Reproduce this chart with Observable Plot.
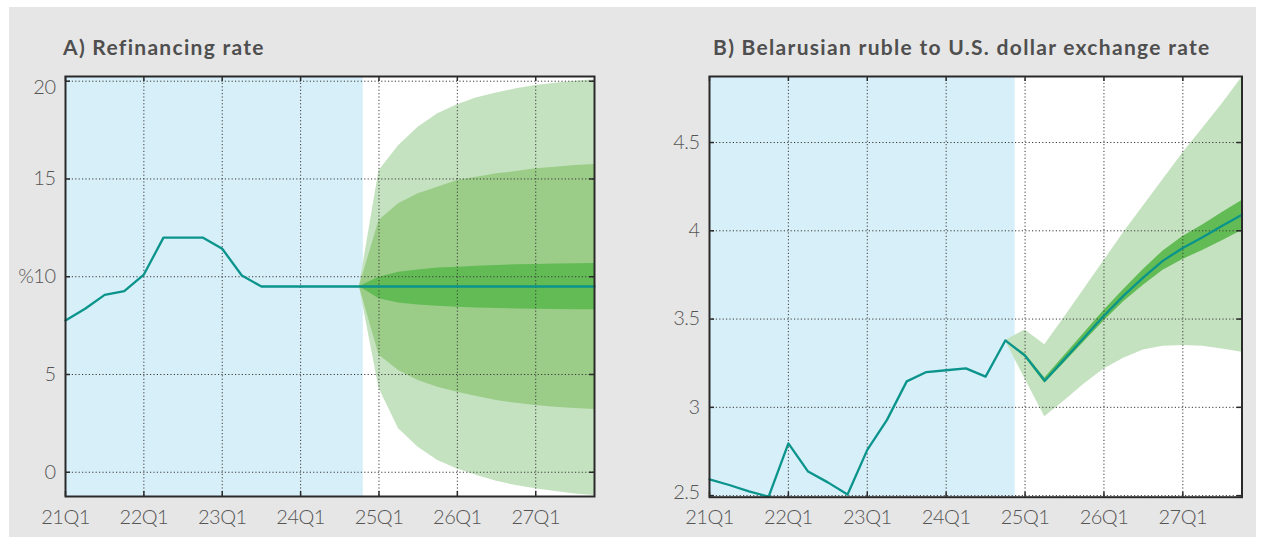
<!DOCTYPE html>
<html>
<head>
<meta charset="utf-8">
<script src="https://cdn.jsdelivr.net/npm/d3@7"></script>
<script src="https://cdn.jsdelivr.net/npm/@observablehq/plot@0.6"></script>
<style>
  html, body { margin: 0; padding: 0; background: #ffffff; width: 1262px; height: 537px; overflow: hidden; }
  #panel { position: absolute; left: 9px; top: 7px; width: 1247px; height: 530px; background: #e6e6e6; }
  .title { position: absolute; font-family: Lato, "Open Sans", sans-serif; font-weight: 700; font-size: 21px; line-height: 21px; letter-spacing: 1.3px; color: #4f4f4f; white-space: nowrap; }
  .chart { position: absolute; top: 60px; }
  .chart svg { overflow: visible; background: transparent; }
</style>
</head>
<body>
<div id="panel"></div>
<div class="title" style="left:63px; top:36px;">A) Refinancing rate</div>
<div class="title" style="left:713px; top:36px;">B) Belarusian ruble to U.S. dollar exchange rate</div>
<div class="chart" id="chartA" style="left:0px;"></div>
<div class="chart" id="chartB" style="left:631px;"></div>
<script>
// ---------- shared x axis (quarter index 0 = 21Q1 ... 27 = 27Q4) ----------
const xDomain = [0, 27];
const xTicks = [0, 4, 8, 12, 16, 20, 24];
const xTickLabels = ["21Q1", "22Q1", "23Q1", "24Q1", "25Q1", "26Q1", "27Q1"];
const histStartQ = 0;     // first historical quarter (21Q1)
const fcstStartQ = 15;    // forecast starts at 24Q4

// ---------- Panel A: Refinancing rate (%) ----------
const rateHist = [7.76, 8.36, 9.07, 9.26, 10.11, 12.0, 12.0, 12.0, 11.43, 10.06, 9.5, 9.5, 9.5, 9.5, 9.5, 9.5];
const rateFcst = [9.5, 9.5, 9.5, 9.5, 9.5, 9.5, 9.5, 9.5, 9.5, 9.5, 9.5, 9.5, 9.5];
const rateLightHi = [9.5, 15.42, 16.7, 17.65, 18.33, 18.79, 19.15, 19.4, 19.61, 19.78, 19.9, 20.0, 20.07];
const rateLightLo = [9.5, 4.3, 2.22, 1.28, 0.6, 0.17, -0.17, -0.46, -0.68, -0.85, -0.99, -1.11, -1.19];
const rateMidHi = [9.5, 12.87, 13.73, 14.24, 14.58, 14.92, 15.09, 15.26, 15.38, 15.52, 15.6, 15.69, 15.74];
const rateMidLo = [9.5, 6.0, 5.2, 4.69, 4.35, 4.09, 3.87, 3.67, 3.53, 3.41, 3.32, 3.26, 3.21];
const rateDarkHi = [9.5, 9.97, 10.23, 10.35, 10.44, 10.49, 10.54, 10.58, 10.61, 10.63, 10.65, 10.66, 10.67];
const rateDarkLo = [9.5, 8.87, 8.66, 8.56, 8.49, 8.44, 8.4, 8.37, 8.35, 8.34, 8.32, 8.31, 8.31];
const rateYDomain = [-1.24, 20.24];
const rateYTicks = [0, 5, 10, 15];
const rateYTickLabels = ["0", "5", "%10", "15"];
const rateYEdgeTicks = [20];
const rateYEdgeLabels = ["20"];
const rateGridY = [0, 5, 10, 15, 20];
const rateShadeEnd = 15.2;

// ---------- Panel B: BYN per USD ----------
const fxHist = [2.592, 2.56, 2.524, 2.494, 2.796, 2.636, 2.575, 2.506, 2.759, 2.929, 3.147, 3.2, 3.21, 3.221, 3.174, 3.379];
const fxFcst = [3.379, 3.293, 3.151, 3.273, 3.396, 3.519, 3.633, 3.736, 3.831, 3.903, 3.963, 4.029, 4.091];
const fxLightHi = [3.379, 3.438, 3.355, 3.51, 3.67, 3.83, 3.99, 4.14, 4.29, 4.44, 4.58, 4.72, 4.87];
const fxLightLo = [3.379, 3.16, 2.947, 3.038, 3.132, 3.217, 3.278, 3.325, 3.346, 3.35, 3.346, 3.331, 3.312];
const fxDarkHi = [3.379, 3.303, 3.166, 3.293, 3.421, 3.549, 3.668, 3.781, 3.886, 3.968, 4.033, 4.104, 4.171];
const fxDarkLo = [3.379, 3.283, 3.136, 3.253, 3.371, 3.489, 3.598, 3.691, 3.776, 3.838, 3.888, 3.944, 4.001];
const fxYDomain = [2.491, 4.874];
const fxYTicks = [3, 3.5, 4, 4.5];
const fxYTickLabels = ["3", "3.5", "4", "4.5"];
const fxYEdgeTicks = [2.5];
const fxYEdgeLabels = ["2.5"];
const fxGridY = [2.5, 3, 3.5, 4, 4.5];
const fxShadeEnd = 15.5;

// ---------- styles ----------
const C = {
  shade: "#d7eff9", light: "#c4e2bf", mid: "#9bcd89", dark: "#63bb56",
  line: "#0a948b", grid: "#3a3a3a", frame: "#2a2a2a", text: "#555555"
};

function buildPanel(o) {
  const line = o.hist.map((v, i) => ({q: histStartQ + i, v}))
    .concat(o.fcst.slice(1).map((v, i) => ({q: fcstStartQ + 1 + i, v})));
  const bands = o.fcst.map((v, i) => {
    const d = {q: fcstStartQ + i};
    for (const k in o.bands) d[k] = o.bands[k][i];
    return d;
  });
  const W = o.width - o.ml - o.mr, H = o.height - o.mt - o.mb;
  const tickLen = 5;
  const marks = [
    Plot.frame({fill: "#ffffff", stroke: null}),
    Plot.rect([{x1: xDomain[0], x2: o.shadeEnd}], {x1: "x1", x2: "x2", fill: C.shade})
  ];
  if (o.bands.lightLo) marks.push(Plot.areaY(bands, {x: "q", y1: "lightLo", y2: "lightHi", fill: C.light}));
  if (o.bands.midLo) marks.push(Plot.areaY(bands, {x: "q", y1: "midLo", y2: "midHi", fill: C.mid}));
  if (o.bands.darkLo) marks.push(Plot.areaY(bands, {x: "q", y1: "darkLo", y2: "darkHi", fill: C.dark}));
  marks.push(
    Plot.ruleX(xTicks, {stroke: C.grid, strokeWidth: 1, strokeDasharray: "1.2,2.2"}),
    Plot.ruleY(o.gridY, {stroke: C.grid, strokeWidth: 1, strokeDasharray: "1.2,2.2"}),
    Plot.line(line, {x: "q", y: "v", stroke: C.line, strokeWidth: 2.3}),
    // inward ticks
    Plot.ruleX(xTicks, {stroke: C.frame, strokeWidth: 1.5, insetTop: H - tickLen}),
    Plot.ruleX(xTicks, {stroke: C.frame, strokeWidth: 1.5, insetBottom: H - tickLen}),
    Plot.ruleY(o.gridY, {stroke: C.frame, strokeWidth: 1.5, insetRight: W - tickLen}),
    Plot.ruleY(o.gridY, {stroke: C.frame, strokeWidth: 1.5, insetLeft: W - tickLen}),
    Plot.frame({stroke: C.frame, strokeWidth: 2}),
    Plot.axisX({ticks: xTicks, tickFormat: d => xTickLabels[xTicks.indexOf(d)], tickSize: 0, tickPadding: 13, fill: C.text}),
    Plot.axisY({ticks: o.yTicks, tickFormat: d => o.yTickLabels[o.yTicks.indexOf(d)], tickSize: 0, tickPadding: 10, fill: C.text}),
    Plot.axisY({ticks: o.yEdgeTicks, tickFormat: d => o.yEdgeLabels[o.yEdgeTicks.indexOf(d)], tickSize: 0, tickPadding: 10, fill: C.text, dy: o.edgeDy})
  );
  return Plot.plot({
    width: o.width, height: o.height,
    marginLeft: o.ml, marginRight: o.mr, marginTop: o.mt, marginBottom: o.mb,
    x: {domain: xDomain, axis: null},
    y: {domain: o.yDomain, axis: null},
    style: {fontFamily: "Lato, 'Open Sans', sans-serif", fontSize: "20px", fontWeight: 300, color: C.text, background: "transparent", letterSpacing: "-0.5px"},
    marks
  });
}

document.getElementById("chartA").appendChild(buildPanel({
  width: 631, height: 477, ml: 65, mr: 37, mt: 16, mb: 41,
  hist: rateHist, fcst: rateFcst,
  bands: {lightLo: rateLightLo, lightHi: rateLightHi, midLo: rateMidLo, midHi: rateMidHi, darkLo: rateDarkLo, darkHi: rateDarkHi},
  yDomain: rateYDomain, yTicks: rateYTicks, yTickLabels: rateYTickLabels,
  yEdgeTicks: rateYEdgeTicks, yEdgeLabels: rateYEdgeLabels, edgeDy: 6,
  gridY: rateGridY, shadeEnd: rateShadeEnd
}));

document.getElementById("chartB").appendChild(buildPanel({
  width: 631, height: 477, ml: 78, mr: 20.5, mt: 16, mb: 40.3,
  hist: fxHist, fcst: fxFcst,
  bands: {lightLo: fxLightLo, lightHi: fxLightHi, darkLo: fxDarkLo, darkHi: fxDarkHi},
  yDomain: fxYDomain, yTicks: fxYTicks, yTickLabels: fxYTickLabels,
  yEdgeTicks: fxYEdgeTicks, yEdgeLabels: fxYEdgeLabels, edgeDy: -3,
  gridY: fxGridY, shadeEnd: fxShadeEnd
}));
</script>
</body>
</html>
